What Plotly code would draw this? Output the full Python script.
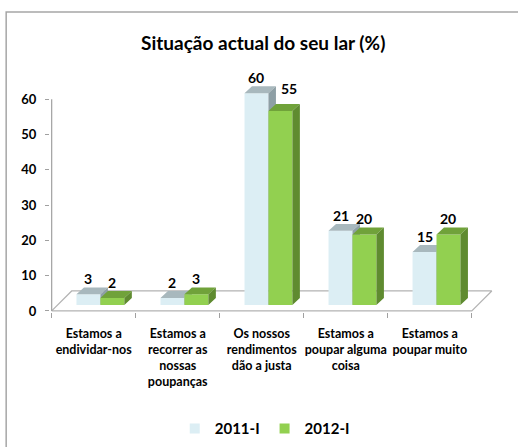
import plotly.graph_objects as go

categories = ["Estamos a<br>endividar-nos", "Estamos a<br>recorrer as<br>nossas<br>poupanças",
              "Os nossos<br>rendimentos<br>dão a justa", "Estamos a<br>poupar alguma<br>coisa",
              "Estamos a<br>poupar muito"]
series_names = ["2011-I", "2012-I"]
values_2011 = [3, 2, 60, 21, 15]
values_2012 = [2, 3, 55, 20, 20]
y_ticks = [0, 10, 20, 30, 40, 50, 60]

FONT = "Lato, 'Open Sans', sans-serif"

# 3D geometry (in axis units)
BASE = 1.7          # bars sit a little behind the front floor edge
DX, DY = 0.089, 1.98  # bar depth
FDX, FDY = 0.238, 5.66  # floor depth
BAR_W = 0.285
OFFSETS = [-0.205, 0.08]

styles = [
    dict(front="#DCEEF4", top="#A8B8BD", side="#8E9FA5"),
    dict(front="#92D050", top="#70A23A", side="#5F8B30"),
]

fig = go.Figure()

n = len(categories)
# floor
fx = [-0.5, n - 0.5, n - 0.5 + FDX, -0.5 + FDX, -0.5]
fy = [0, 0, FDY, FDY, 0]
fig.add_trace(go.Scatter(x=fx, y=fy, mode="lines", line=dict(color="#B3B3B3", width=1.2),
                         hoverinfo="skip", showlegend=False))
# y axis line
fig.add_trace(go.Scatter(x=[-0.5, -0.5], y=[0, max(y_ticks)], mode="lines",
                         line=dict(color="#A0A0A0", width=1.2), hoverinfo="skip", showlegend=False))


def poly_trace(polys, color):
    xs, ys = [], []
    for p in polys:
        xs += [q[0] for q in p] + [p[0][0], None]
        ys += [q[1] for q in p] + [p[0][1], None]
    return go.Scatter(x=xs, y=ys, mode="lines", fill="toself", fillcolor=color,
                      line=dict(width=0, color=color), hoverinfo="skip", showlegend=False)


annotations = []
for s, (vals, st, off) in enumerate(zip([values_2011, values_2012], styles, OFFSETS)):
    fronts, tops, sides = [], [], []
    for i, v in enumerate(vals):
        x0 = i + off
        x1 = x0 + BAR_W
        b = BASE
        t = BASE + v
        fronts.append([(x0, b), (x1, b), (x1, t), (x0, t)])
        tops.append([(x0, t), (x1, t), (x1 + DX, t + DY), (x0 + DX, t + DY)])
        sides.append([(x1, b), (x1 + DX, b + DY), (x1 + DX, t + DY), (x1, t)])
    fig.add_trace(poly_trace(fronts, st["front"]))
    fig.add_trace(poly_trace(tops, st["top"]))
    fig.add_trace(poly_trace(sides, st["side"]))
    for i, v in enumerate(vals):
        xs, ys = 0, 0
        if s == 1 and values_2011[i] - v > 2:
            xs, ys = 9, 7
        annotations.append(dict(x=i + off + BAR_W / 2, y=BASE + v + DY + 2.5, text=str(v),
                                showarrow=False, xref="x", yref="y", xshift=xs, yshift=ys,
                                yanchor="middle",
                                font=dict(family=FONT, size=14, color="#000000", weight="bold")))

# legend entries
for name, st in zip(series_names, styles):
    fig.add_trace(go.Scatter(x=[None], y=[None], mode="markers", name=name,
                             marker=dict(symbol="square", size=10, color=st["front"])))

L, Rpx = 50.32, 497.2
T, Bpx = 63.67, 312.06
W, H = 518, 447
pw, ph = Rpx - L, Bpx - T

annotations.append(dict(text="Situação actual do seu lar (%)", x=(263 - L) / pw, y=(Bpx - 42) / ph,
                        xref="paper", yref="paper", showarrow=False, xanchor="center",
                        yanchor="middle",
                        font=dict(family=FONT, size=19, color="#000000", weight="bold")))

fig.update_layout(
    width=W, height=H,
    margin=dict(l=L, r=W - Rpx, t=T, b=H - Bpx, pad=0, autoexpand=False),
    paper_bgcolor="white", plot_bgcolor="white",
    showlegend=True,
    legend=dict(orientation="h", x=(265 - L) / pw, y=(Bpx - 429) / ph, xanchor="center",
                yanchor="middle", font=dict(family=FONT, size=15, color="#000000", weight="bold"),
                itemwidth=30, bgcolor="rgba(0,0,0,0)"),
    annotations=annotations,
    shapes=[dict(type="rect", xref="paper", yref="paper",
                 x0=(6.5 - L) / pw, x1=(540 - L) / pw,
                 y0=(Bpx - 470) / ph, y1=(Bpx - 11.5) / ph,
                 line=dict(color="#A6A6A6", width=1.5), fillcolor="rgba(0,0,0,0)", layer="below")],
)

fig.update_xaxes(range=[-0.52, 4.8], showgrid=False, zeroline=False, showline=False,
                 automargin=False,
                 tickvals=list(range(n)), ticktext=categories, ticks="", ticklabelstandoff=12,
                 tickangle=0,
                 tickfont=dict(family=FONT, size=12.5, color="#000000", weight="bold"),
                 minor=dict(tickvals=[i - 0.5 for i in range(n + 1)], ticks="outside",
                            ticklen=5, tickcolor="#A0A0A0", tickwidth=1.2, showgrid=False))
fig.update_yaxes(range=[-0.3, 70], showgrid=False, zeroline=False, showline=False,
                 automargin=False,
                 tickvals=y_ticks, ticks="outside", ticklen=4, tickcolor="#A0A0A0", tickwidth=1.2,
                 ticklabelstandoff=6,
                 tickfont=dict(family=FONT, size=13, color="#000000", weight="bold"))

fig.write_html("out.html", config={"displayModeBar": False},
               post_script="document.body.style.margin='0';")
